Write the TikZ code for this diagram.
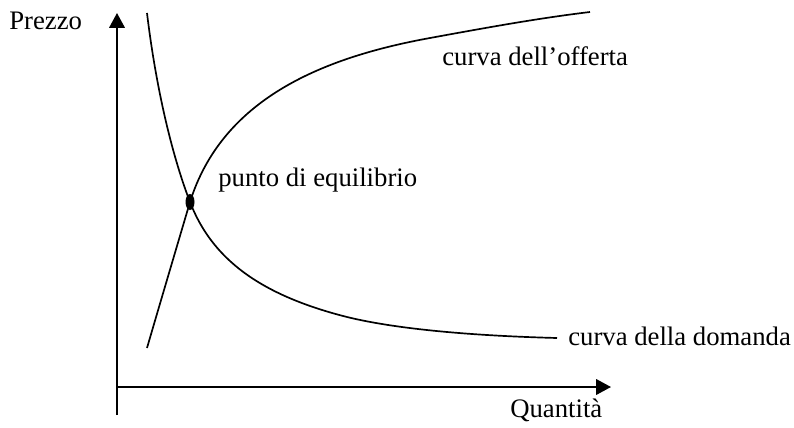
\documentclass[tikz,border=0pt]{standalone}
\usepackage{fontspec}
\setmainfont{Liberation Serif}
\usetikzlibrary{arrows.meta,shapes.geometric}
\tikzset{
  axis/.style={line width=1.3pt,-{Triangle[length=10.5pt,width=11pt]}},
  curve/.style={line width=1.2pt},
  lbl/.style={inner sep=0pt,anchor=base west,font=\fontsize{19}{22}\selectfont}
}
\begin{document}
\begin{tikzpicture}[x=0.025cm,y=-0.025cm]
\useasboundingbox (0,0) rectangle (794,427);
% assi
\coordinate (ybot) at (117,415);
\coordinate (ytop) at (117,13);
\coordinate (xleft) at (117,387);
\coordinate (xtip) at (611,387);
\draw[axis] (ybot) -- (ytop);
\draw[axis] (xleft) -- (xtip);
\node[lbl] (prezzo) at (9,30) {Prezzo};
\node[lbl] (quantita) at (510,417) {Quantità};
% curve
\coordinate (eqp) at (190,202);
\coordinate (s0) at (147,348);
\coordinate (s1) at (430,38);
\coordinate (s2) at (590,12);
\coordinate (d0) at (147,13);
\coordinate (d1) at (347,317);
\coordinate (d2) at (557,338);
\draw[curve] (s0) .. controls (161,300) and (177,246) .. (eqp)
  .. controls (222,100) and (320,58) .. (s1)
  .. controls (490,27) and (540,18) .. (s2);
\draw[curve] (d0) .. controls (155,80) and (170,150) .. (eqp)
  .. controls (212,259) and (260,295) .. (d1)
  .. controls (400,330) and (480,336) .. (d2);
\node[ellipse,fill=black,inner sep=0pt,minimum width=9*0.025cm,minimum height=16*0.025cm] (eq) at (eqp) {};
% etichette
\node[lbl] (puntoeq) at (218,186) {punto di equilibrio};
\node[lbl] (offerta) at (442,65) {curva dell’offerta};
\node[lbl] (domanda) at (568,345) {curva della domanda};
\end{tikzpicture}
\end{document}
